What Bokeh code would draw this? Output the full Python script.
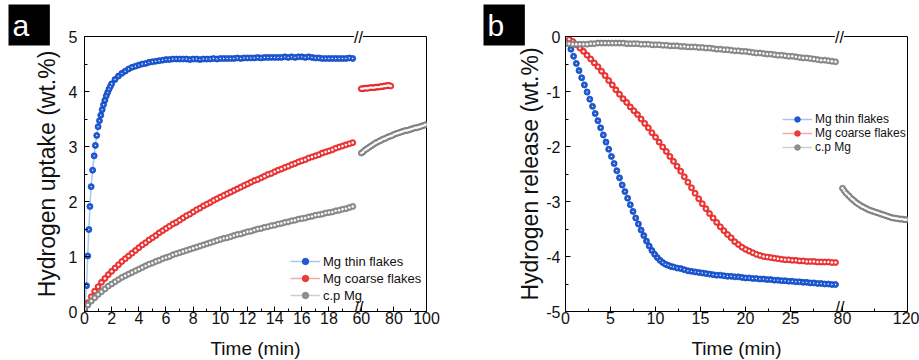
import numpy as np
from bokeh.plotting import figure
from bokeh.models import (Range1d, FixedTicker, Label, Legend, LegendItem, Title,
                          CustomJSTickFormatter, ColumnDataSource)
from bokeh.layouts import row
from bokeh.embed import file_html
from bokeh.resources import INLINE

FONT = "Liberation Sans"

# ------------------------------------------------------------------ data
a_thin_t_early = [0.0, 0.15, 0.24, 0.32, 0.40, 0.49, 0.60, 0.71, 0.80, 0.90,
                  1.00, 1.10, 1.20, 1.30, 1.40, 1.50, 1.60, 1.70, 1.80, 1.90, 2.00]
a_thin_v_early = [0.00, 0.47, 1.01, 1.49, 1.91, 2.27, 2.57, 2.83, 3.02, 3.20,
                  3.36, 3.47, 3.57, 3.67, 3.76, 3.84, 3.92, 3.98, 4.04, 4.09, 4.14]
a_thin_t0, a_thin_dt = 2.25, 0.25
a_thin_v_late = [4.22, 4.28, 4.33, 4.37, 4.41, 4.44, 4.46, 4.48, 4.50, 4.51,
                 4.53, 4.54, 4.55, 4.56, 4.57, 4.58, 4.58, 4.59, 4.59, 4.59,
                 4.59, 4.59, 4.58, 4.59, 4.59, 4.58, 4.59, 4.59, 4.59, 4.60,
                 4.59, 4.60, 4.60, 4.60, 4.60, 4.60, 4.61, 4.60, 4.61, 4.61,
                 4.61, 4.61, 4.62, 4.61, 4.62, 4.62, 4.62, 4.62, 4.62, 4.62,
                 4.63, 4.62, 4.63, 4.62, 4.63, 4.63, 4.62, 4.63, 4.62, 4.61,
                 4.61, 4.60, 4.60, 4.60, 4.60, 4.60, 4.60, 4.60, 4.60, 4.61, 4.60]
a_dt = 0.25
a_coarse_v = [0.03, 0.16, 0.27, 0.37, 0.45, 0.53, 0.60, 0.67, 0.73, 0.79,
              0.85, 0.91, 0.96, 1.01, 1.06, 1.11, 1.16, 1.21, 1.25, 1.30,
              1.34, 1.38, 1.43, 1.47, 1.51, 1.55, 1.59, 1.62, 1.66, 1.70,
              1.74, 1.77, 1.81, 1.85, 1.88, 1.92, 1.95, 1.98, 2.02, 2.05,
              2.08, 2.11, 2.14, 2.17, 2.20, 2.23, 2.26, 2.29, 2.32, 2.35,
              2.38, 2.40, 2.43, 2.46, 2.49, 2.51, 2.54, 2.57, 2.59, 2.62,
              2.64, 2.67, 2.69, 2.72, 2.74, 2.76, 2.79, 2.81, 2.83, 2.85,
              2.88, 2.90, 2.92, 2.94, 2.97, 2.99, 3.01, 3.03, 3.05, 3.07]
a_cp_v = [0.05, 0.12, 0.19, 0.25, 0.31, 0.36, 0.41, 0.46, 0.50, 0.54,
          0.58, 0.62, 0.65, 0.68, 0.71, 0.74, 0.77, 0.80, 0.83, 0.86,
          0.88, 0.91, 0.93, 0.96, 0.98, 1.00, 1.03, 1.05, 1.07, 1.09,
          1.11, 1.13, 1.15, 1.17, 1.19, 1.21, 1.23, 1.25, 1.27, 1.29,
          1.31, 1.33, 1.34, 1.36, 1.38, 1.40, 1.41, 1.43, 1.45, 1.46,
          1.48, 1.50, 1.51, 1.53, 1.54, 1.56, 1.57, 1.59, 1.60, 1.62,
          1.63, 1.65, 1.66, 1.68, 1.69, 1.70, 1.72, 1.73, 1.75, 1.76,
          1.77, 1.79, 1.80, 1.81, 1.83, 1.84, 1.86, 1.87, 1.89, 1.91]
a_long_t0, a_long_dt = 60.0, 1.0
a_coarse_long_v = [4.05, 4.05, 4.06, 4.06, 4.06, 4.07, 4.07, 4.07, 4.07, 4.08,
                   4.08, 4.08, 4.09, 4.09, 4.10, 4.10, 4.11, 4.11, 4.10]
a_cp_long_v = [2.88, 2.90, 2.93, 2.95, 2.97, 2.99, 3.01, 3.03, 3.05, 3.07,
               3.08, 3.10, 3.11, 3.13, 3.14, 3.15, 3.17, 3.18, 3.19, 3.20,
               3.22, 3.23, 3.24, 3.25, 3.26, 3.27, 3.28, 3.29, 3.29, 3.30,
               3.31, 3.32, 3.33, 3.34, 3.34, 3.35, 3.36, 3.37, 3.38, 3.39, 3.40]

b_thin_t0, b_thin_dt = 0.0, 0.3
b_thin_v_early = [-0.02, -0.11, -0.23, -0.36, -0.49, -0.62, -0.75, -0.88, -1.01, -1.14,
                  -1.27, -1.40, -1.53, -1.66, -1.79, -1.92, -2.05, -2.18, -2.31, -2.44,
                  -2.57, -2.70, -2.82, -2.94, -3.06, -3.18, -3.30, -3.41, -3.52, -3.62,
                  -3.72, -3.81, -3.89, -3.96, -4.02, -4.07, -4.11, -4.14, -4.16, -4.18, -4.19]
b_thin_t1, b_thin_dt1 = 12.4, 0.4
b_thin_v_late = [-4.21, -4.22, -4.24, -4.26, -4.27, -4.28, -4.29, -4.30, -4.31, -4.32,
                 -4.33, -4.34, -4.34, -4.35, -4.36, -4.36, -4.37, -4.37, -4.38, -4.39,
                 -4.39, -4.40, -4.40, -4.41, -4.41, -4.42, -4.42, -4.43, -4.43, -4.44,
                 -4.44, -4.45, -4.45, -4.46, -4.46, -4.47, -4.47, -4.48, -4.48, -4.49,
                 -4.49, -4.50, -4.50, -4.51, -4.51]
b_dt = 0.4
b_coarse_v = [-0.02, -0.05, -0.09, -0.15, -0.21, -0.27, -0.34, -0.41, -0.48, -0.55,
              -0.63, -0.71, -0.80, -0.88, -0.97, -1.05, -1.13, -1.20, -1.28, -1.35,
              -1.42, -1.50, -1.58, -1.66, -1.75, -1.83, -1.92, -2.01, -2.09, -2.18,
              -2.27, -2.36, -2.45, -2.55, -2.65, -2.75, -2.85, -2.95, -3.04, -3.13,
              -3.22, -3.30, -3.38, -3.46, -3.53, -3.60, -3.66, -3.73, -3.78, -3.83,
              -3.87, -3.90, -3.93, -3.96, -3.98, -4.00, -4.01, -4.02, -4.03, -4.04,
              -4.05, -4.06, -4.06, -4.07, -4.07, -4.08, -4.08, -4.09, -4.09, -4.09,
              -4.10, -4.10, -4.10, -4.10, -4.11, -4.11]
b_cp_v = [-0.13, -0.13, -0.14, -0.14, -0.14, -0.14, -0.14, -0.13, -0.13, -0.12,
          -0.12, -0.12, -0.12, -0.12, -0.12, -0.12, -0.12, -0.13, -0.13, -0.13,
          -0.13, -0.14, -0.14, -0.14, -0.15, -0.15, -0.15, -0.16, -0.16, -0.17,
          -0.17, -0.17, -0.18, -0.18, -0.19, -0.19, -0.19, -0.20, -0.20, -0.21,
          -0.21, -0.22, -0.23, -0.23, -0.24, -0.24, -0.25, -0.26, -0.26, -0.27,
          -0.27, -0.28, -0.29, -0.30, -0.30, -0.31, -0.32, -0.32, -0.33, -0.34,
          -0.34, -0.35, -0.36, -0.36, -0.37, -0.38, -0.39, -0.39, -0.40, -0.41,
          -0.42, -0.43, -0.43, -0.44, -0.45, -0.46]
b_long_t0, b_long_dt = 80.0, 1.0
b_cp_long_v = [-2.76, -2.80, -2.84, -2.87, -2.90, -2.93, -2.96, -2.98, -3.01, -3.03,
               -3.05, -3.07, -3.09, -3.10, -3.12, -3.13, -3.15, -3.16, -3.17, -3.18,
               -3.19, -3.20, -3.21, -3.22, -3.23, -3.24, -3.25, -3.26, -3.27, -3.28,
               -3.29, -3.30, -3.30, -3.31, -3.31, -3.32, -3.32, -3.32, -3.33, -3.33, -3.33]

series_names = ["Mg thin flakes", "Mg coarse flakes", "c.p Mg"]
a_xticks_left, a_xminor_left = [0, 2, 4, 6, 8, 10, 12, 14, 16, 18], [1, 3, 5, 7, 9, 11, 13, 15, 17, 19]
a_xticks_right, a_xminor_right = [60, 80, 100], [70, 90]
b_xticks_left = [0, 5, 10, 15, 20, 25]
b_xminor_left = [2.5, 7.5, 12.5, 17.5, 22.5, 27.5]
b_xticks_right, b_xminor_right = [80, 120], [100]
a_yticks, a_yminor = [0, 1, 2, 3, 4, 5], [0.5, 1.5, 2.5, 3.5, 4.5]
b_yticks, b_yminor = [0, -1, -2, -3, -4, -5], [-0.5, -1.5, -2.5, -3.5, -4.5]

# ------------------------------------------------------------------ style
FW, FH = 342, 275
BLUE = dict(fill="#1f5bd6", edge="#1448bc", light="#a9c6f2", dot=1.4)
RED = dict(fill="#f23b3b", edge="#e02424", light="#f6a9a9", dot=2.4)
GRAY = dict(fill="#909090", edge="#7c7c7c", light="#cfcfcf", dot=2.4)


def tarr(t0, dt, vals):
    return list(t0 + dt * np.arange(len(vals)))


def broken_ranges(l_end, l_px, r_start, r_end, r_px):
    xr = Range1d(0, l_end * FW / l_px)
    k = (FW - r_px) / (r_end - r_start)
    xr2 = Range1d(r_end - FW / k, r_end)
    return xr, xr2


def to_main(xr, xr2, t):
    frac = (t - xr2.start) / (xr2.end - xr2.start)
    v = xr.start + frac * (xr.end - xr.start)
    return min(round(v, 6), xr.end - 1e-5)


def fmt(pos, labs):
    return CustomJSTickFormatter(args=dict(pos=pos, lab=labs), code="""
for (let i = 0; i < pos.length; i++) {
  if (Math.abs(tick - pos[i]) < 1e-4) { return lab[i] }
}
return String(Math.round(tick * 100) / 100)
""")


def style_axis(ax, tick_fs, label_fs):
    ax.axis_line_color = "black"
    ax.axis_line_width = 1
    ax.major_tick_in, ax.major_tick_out = 5, 0
    ax.minor_tick_in, ax.minor_tick_out = 3, 0
    ax.major_tick_line_color = "black"
    ax.minor_tick_line_color = "black"
    ax.major_label_text_font = FONT
    ax.major_label_text_font_size = tick_fs
    ax.major_label_text_color = "#111111"
    ax.axis_label_text_font = FONT
    ax.axis_label_text_font_size = label_fs
    ax.axis_label_text_font_style = "normal"
    ax.axis_label_text_color = "#111111"


def add_series(p, t, v, c, range_name="default", size=6):
    src = ColumnDataSource(dict(t=t, v=v))
    ln = p.line("t", "v", source=src, line_color=c["light"], line_width=1.5,
                x_range_name=range_name)
    mk = p.scatter("t", "v", source=src, size=size, fill_color=c["fill"],
                   line_color=c["edge"], line_width=0.8, x_range_name=range_name)
    p.scatter("t", "v", source=src, size=c["dot"], fill_color="white",
              line_color=None, x_range_name=range_name)
    return [ln, mk]


def add_top_text(p, text, offset, standoff, size, color, bg, pad):
    t = Title(text=text, align="left", offset=offset, vertical_align="bottom",
              text_font=FONT, text_font_size=size, text_color=color,
              text_font_style="normal", background_fill_color=bg)
    try:
        t.standoff = standoff
    except Exception:
        t.standoff = 0
    t.padding = pad
    p.add_layout(t, "above")


def make_panel(letter, letter_offset, ylabel, yrange, yticks, yminor, ranges, xt_l, xm_l,
               xt_r, xm_r, brk_px, borders, ylab_standoff, ytick_standoff):
    xr, xr2 = ranges
    left, right, top, bottom = borders
    p = figure(frame_width=FW, frame_height=FH, x_range=xr, y_range=Range1d(*yrange),
               output_backend="svg", toolbar_location=None,
               min_border_left=left, min_border_right=right,
               min_border_top=top, min_border_bottom=bottom)
    p.extra_x_ranges = {"seg2": xr2}
    p.xgrid.visible = False
    p.ygrid.visible = False
    p.outline_line_color = "black"
    p.outline_line_width = 1
    p.background_fill_color = "white"
    p.border_fill_color = "white"

    pos_r = [to_main(xr, xr2, t) for t in xt_r]
    pos_rm = [to_main(xr, xr2, t) for t in xm_r]
    xa = p.xaxis[0]
    xa.ticker = FixedTicker(ticks=list(xt_l) + pos_r, minor_ticks=list(xm_l) + pos_rm)
    xa.formatter = fmt(pos_r, [str(t) for t in xt_r])
    style_axis(xa, "16px", "19px")
    xa.axis_label = "Time (min)"
    xa.major_label_standoff = 0
    xa.axis_label_standoff = 11

    ya = p.yaxis[0]
    ya.ticker = FixedTicker(ticks=yticks, minor_ticks=yminor)
    ya.formatter = fmt([], [])
    style_axis(ya, "16px", "23px")
    ya.axis_label = ylabel
    ya.major_label_standoff = ytick_standoff
    ya.axis_label_standoff = ylab_standoff

    # break mark on the top border (side panel, not clipped) and on the x axis
    add_top_text(p, "//", brk_px - 5, -18, "16px", "black", "white", 0)
    bx = brk_px / FW * (xr.end - xr.start) + xr.start
    p.add_layout(Label(x=bx, y=yrange[0], y_offset=4, text="//", text_font=FONT,
                       text_font_size="16px", text_color="black", text_align="center",
                       text_baseline="middle"))
    # panel letter in a black box
    add_top_text(p, " " + letter + " ", letter_offset, -20, "30px", "white", "black", 4)
    return p


def add_legend(p, rends, loc, fs, h, sp):
    items = [LegendItem(label=n, renderers=r) for n, r in zip(series_names, rends)]
    lg = Legend(items=items, location=loc, label_text_font=FONT, label_text_font_size=fs,
                label_text_color="#111111", glyph_width=30, glyph_height=h, label_height=h,
                label_standoff=3, spacing=sp, padding=0, margin=0,
                border_line_color=None, background_fill_alpha=0)
    p.add_layout(lg)


# ------------------------------------------------------------------ panel a
ra = broken_ranges(20.1, 273, 59.5, 100, 276)
pa = make_panel("a", -76, "Hydrogen uptake (wt.%)", (0, 5), a_yticks, a_yminor, ra,
                a_xticks_left, a_xminor_left, a_xticks_right, a_xminor_right,
                274.5, (84, 34, 36, 49), 6, 7)
ra_thin = add_series(pa, a_thin_t_early + tarr(a_thin_t0, a_thin_dt, a_thin_v_late),
                     a_thin_v_early + a_thin_v_late, BLUE)
ra_coarse = add_series(pa, tarr(0, a_dt, a_coarse_v), a_coarse_v, RED)
ra_cp = add_series(pa, tarr(0, a_dt, a_cp_v), a_cp_v, GRAY)
add_series(pa, tarr(a_long_t0, a_long_dt, a_coarse_long_v), a_coarse_long_v, RED, "seg2")
add_series(pa, tarr(a_long_t0, a_long_dt, a_cp_long_v), a_cp_long_v, GRAY, "seg2")
add_legend(pa, [ra_thin, ra_coarse, ra_cp], (206, 8), "13px", 16, 1)

# ------------------------------------------------------------------ panel b
rb = broken_ranges(30.33, 273, 79.4, 120, 276)
pb = make_panel("b", -82, "Hydrogen release (wt.%)", (-5, 0), b_yticks, b_yminor, rb,
                b_xticks_left, b_xminor_left, b_xticks_right, b_xminor_right,
                274.5, (105, 12, 36, 49), 0, 5)
rb_thin = add_series(pb, tarr(b_thin_t0, b_thin_dt, b_thin_v_early) +
                     tarr(b_thin_t1, b_thin_dt1, b_thin_v_late),
                     b_thin_v_early + b_thin_v_late, BLUE)
rb_coarse = add_series(pb, tarr(0, b_dt, b_coarse_v), b_coarse_v, RED)
rb_cp = add_series(pb, tarr(0, b_dt, b_cp_v), b_cp_v, GRAY)
add_series(pb, tarr(b_long_t0, b_long_dt, b_cp_long_v), b_cp_long_v, GRAY, "seg2")
add_legend(pb, [rb_thin, rb_coarse, rb_cp], (217, 157), "12px", 14, 0)

layout = row(pa, pb)
open("out.html", "w").write(file_html(layout, INLINE))
